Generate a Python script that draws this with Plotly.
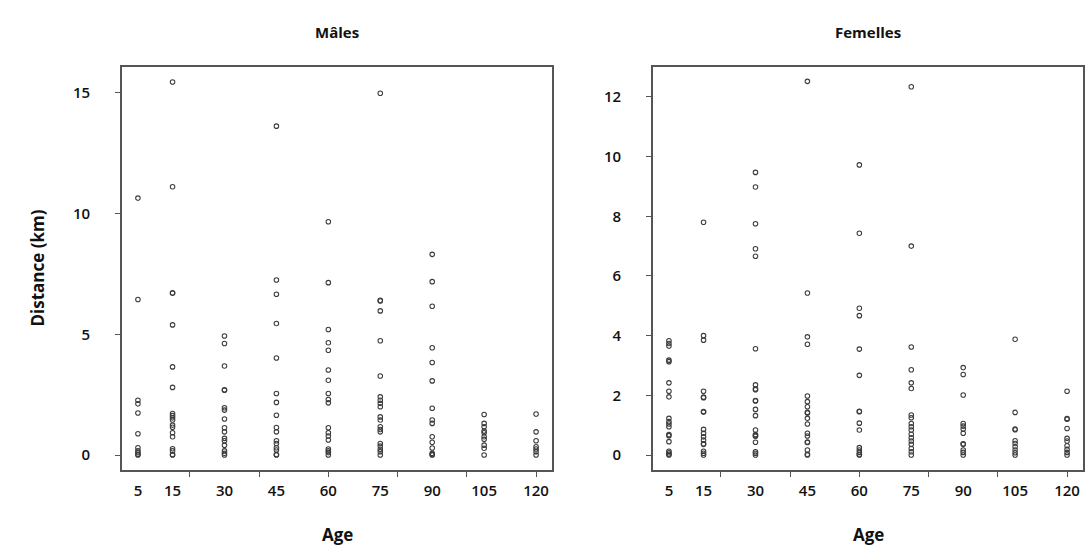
import plotly.graph_objects as go

# ---------------- data ----------------
ages = [5, 15, 30, 45, 60, 75, 90, 105, 120]
age_labels = ["5", "15", "30", "45", "60", "75", "90", "105", "120"]
minor_ticks = [20, 40, 60, 80, 100, 120]

# Mâles : distance (km) per age class
m_5 = [10.64, 6.44, 2.27, 2.12, 1.74, 0.88, 0.30, 0.18, 0.10, 0.03, 0.0]
m_15 = [15.45, 11.11, 6.72, 6.70, 5.39, 3.65, 2.80, 1.72, 1.63, 1.54, 1.45, 1.24,
        1.15, 0.92, 0.76, 0.26, 0.17, 0.02, 0.0]
m_30 = [4.93, 4.62, 3.69, 2.70, 2.68, 1.96, 1.86, 1.49, 1.13, 0.96, 0.69, 0.59,
        0.40, 0.17, 0.07, 0.0]
m_45 = [13.62, 7.25, 6.66, 5.45, 4.02, 2.55, 2.18, 1.65, 1.14, 0.96, 0.59, 0.48,
        0.30, 0.21, 0.02, 0.0]
m_60 = [9.66, 7.14, 5.20, 4.65, 4.34, 3.52, 3.10, 2.55, 2.30, 2.16, 1.13, 0.92,
        0.79, 0.62, 0.25, 0.17, 0.10, 0.0]
m_75 = [14.98, 6.41, 6.38, 5.97, 4.73, 3.27, 2.41, 2.27, 2.14, 2.00, 1.58, 1.45,
        1.17, 1.06, 0.96, 0.48, 0.37, 0.24, 0.14, 0.0]
m_90 = [8.31, 7.18, 6.16, 4.44, 3.83, 3.07, 1.94, 1.45, 1.31, 0.76, 0.53, 0.29,
        0.07, 0.02, 0.0]
m_105 = [1.68, 1.31, 1.17, 0.99, 0.92, 0.76, 0.65, 0.41, 0.28, 0.0]
m_120 = [1.70, 0.96, 0.59, 0.34, 0.25, 0.14, 0.0]

# Femelles : distance (km) per age class
f_5 = [3.83, 3.74, 3.65, 3.18, 3.13, 2.42, 2.14, 1.95, 1.23, 1.12, 1.04, 0.95,
       0.69, 0.65, 0.45, 0.13, 0.08, 0.03, 0.0]
f_15 = [7.80, 4.00, 3.85, 2.14, 1.94, 1.92, 1.46, 1.44, 0.86, 0.73, 0.61, 0.50,
        0.38, 0.36, 0.13, 0.06, 0.0]
f_30 = [9.47, 8.98, 7.75, 6.91, 6.66, 3.56, 2.35, 2.21, 2.19, 1.83, 1.81, 1.53,
        1.32, 0.84, 0.69, 0.65, 0.63, 0.43, 0.11, 0.06, 0.0]
f_45 = [12.52, 5.43, 3.96, 3.71, 1.98, 1.79, 1.62, 1.43, 1.41, 1.23, 1.04, 0.73,
        0.64, 0.44, 0.42, 0.17, 0.03, 0.0]
f_60 = [9.72, 7.43, 4.92, 4.67, 3.55, 2.67, 1.47, 1.45, 1.07, 0.84, 0.25, 0.17,
        0.09, 0.02, 0.0]
f_75 = [12.34, 7.00, 3.62, 2.86, 2.42, 2.23, 1.34, 1.25, 1.06, 0.95, 0.84, 0.70,
        0.58, 0.47, 0.36, 0.22, 0.11, 0.0]
f_90 = [2.93, 2.70, 2.01, 1.06, 0.97, 0.87, 0.73, 0.38, 0.36, 0.17, 0.09, 0.0]
f_105 = [3.88, 1.43, 0.87, 0.85, 0.48, 0.39, 0.28, 0.17, 0.08, 0.0]
f_120 = [2.14, 1.22, 1.20, 0.89, 0.56, 0.47, 0.31, 0.19, 0.09, 0.0]

males_cols = [m_5, m_15, m_30, m_45, m_60, m_75, m_90, m_105, m_120]
females_cols = [f_5, f_15, f_30, f_45, f_60, f_75, f_90, f_105, f_120]


def flatten(cols):
    xs, ys = [], []
    for a, col in zip(ages, cols):
        for v in col:
            xs.append(a)
            ys.append(v)
    return xs, ys


mx, my = flatten(males_cols)
fx, fy = flatten(females_cols)

# ---------------- figure ----------------
W, H = 1087, 555
FONT = "Open Sans"
box_col = "#555555"
pt_col = "#3c3c3c"

fig = go.Figure()
marker = dict(symbol="circle-open", size=4.5, color=pt_col, line=dict(width=1.1, color=pt_col))
fig.add_trace(go.Scatter(x=mx, y=my, mode="markers", marker=marker, xaxis="x", yaxis="y",
                         showlegend=False, hoverinfo="skip"))
fig.add_trace(go.Scatter(x=fx, y=fy, mode="markers", marker=marker, xaxis="x2", yaxis="y2",
                         showlegend=False, hoverinfo="skip"))
# invisible traces so the label axes get drawn
fig.add_trace(go.Scatter(x=ages, y=[0] * len(ages), mode="markers", marker=dict(opacity=0),
                         xaxis="x3", yaxis="y", showlegend=False, hoverinfo="skip"))
fig.add_trace(go.Scatter(x=ages, y=[0] * len(ages), mode="markers", marker=dict(opacity=0),
                         xaxis="x4", yaxis="y2", showlegend=False, hoverinfo="skip"))

xr = [0.4, 124.6]
ydom = [1 - 470 / H, 1 - 67 / H]
xdom1 = [122 / W, 552 / W]
xdom2 = [653 / W, 1083 / W]

tickfont = dict(family=FONT, size=15, color="#111", weight=600)

common_x = dict(range=xr, showgrid=False, zeroline=False, showline=True, mirror=True,
                linecolor=box_col, linewidth=1.6, ticks="outside", ticklen=5, tickwidth=1,
                tickcolor=box_col, tickvals=minor_ticks, ticktext=[""] * len(minor_ticks))
label_x = dict(range=xr, showgrid=False, zeroline=False, showline=False, ticks="",
               tickvals=ages, ticktext=age_labels, tickfont=tickfont, side="bottom",
               ticklabelstandoff=10)
common_y = dict(showgrid=False, zeroline=False, showline=True, mirror=True,
                linecolor=box_col, linewidth=1.6, ticks="outside", ticklen=5, tickwidth=1,
                tickcolor=box_col, tickfont=tickfont, domain=ydom)

fig.update_layout(
    width=W, height=H,
    margin=dict(l=0, r=0, t=0, b=0),
    paper_bgcolor="white", plot_bgcolor="white",
    xaxis=dict(domain=xdom1, anchor="y", **common_x),
    xaxis2=dict(domain=xdom2, anchor="y2", **common_x),
    xaxis3=dict(domain=xdom1, anchor="y", overlaying="x", **label_x),
    xaxis4=dict(domain=xdom2, anchor="y2", overlaying="x2", **label_x),
    yaxis=dict(anchor="x", range=[-0.62, 16.07], tickvals=[0, 5, 10, 15],
               ticklabelstandoff=22, **common_y),
    yaxis2=dict(anchor="x2", range=[-0.5, 13.0], tickvals=[0, 2, 4, 6, 8, 10, 12],
                ticklabelstandoff=22, **common_y),
)

title_font = dict(family=FONT, size=15, color="#111", weight=700)
axis_font = dict(family=FONT, size=17, color="#111", weight=700)
ann = [
    dict(text="Mâles", x=(xdom1[0] + xdom1[1]) / 2, y=1 - 32 / H, font=title_font),
    dict(text="Femelles", x=(xdom2[0] + xdom2[1]) / 2, y=1 - 32 / H, font=title_font),
    dict(text="Age", x=(xdom1[0] + xdom1[1]) / 2, y=1 - 534 / H, font=axis_font),
    dict(text="Age", x=(xdom2[0] + xdom2[1]) / 2, y=1 - 534 / H, font=axis_font),
    dict(text="Distance (km)", x=37 / W, y=(ydom[0] + ydom[1]) / 2, textangle=-90, font=axis_font),
]
for a in ann:
    fig.add_annotation(xref="paper", yref="paper", showarrow=False,
                       xanchor="center", yanchor="middle", **a)

fig.write_html("out.html", config={"displayModeBar": False},
               post_script="document.body.style.margin='0';")
